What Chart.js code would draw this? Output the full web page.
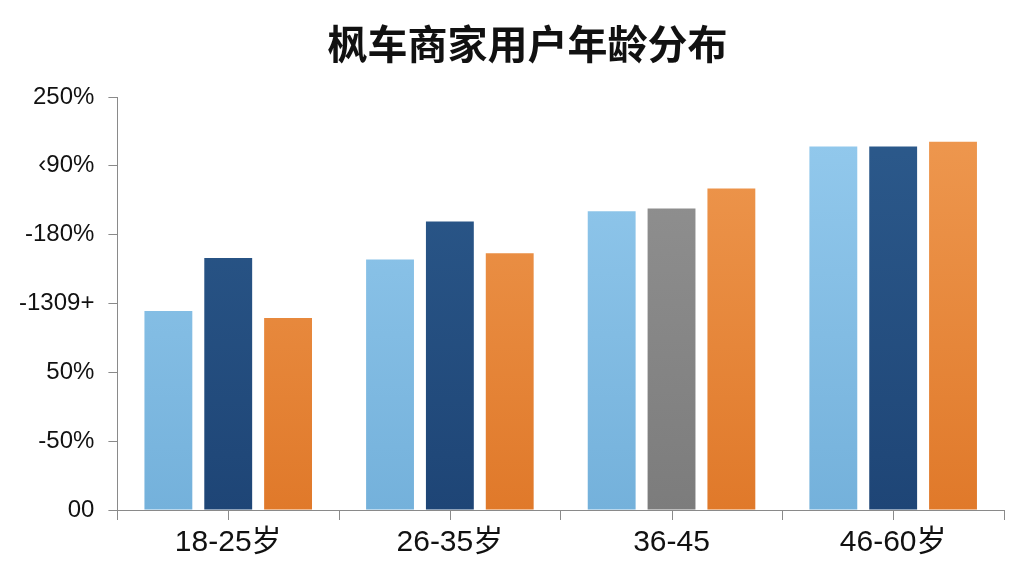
<!DOCTYPE html>
<html>
<head>
<meta charset="utf-8">
<script src="https://cdn.jsdelivr.net/npm/chart.js@4/dist/chart.umd.min.js"></script>
<style>
html,body{margin:0;padding:0;background:#fff}
#wrap{width:1024px;height:576px}
</style>
</head>
<body>
<div id="wrap"><canvas id="ageChart"></canvas></div>
<script>

/* =========================
   DATA
========================= */

let categories = ["18-25岁","26-35岁","36-45","46-60岁"]

// tick labels, bottom to top (as printed on the picture)
let yTickLabels = ["00","-50%","50%","-1309+","-180%","‹90%","250%"]

// bar heights in tick steps
let seriesA = [2.89,3.64,4.34,5.28]
let seriesB = [3.66,4.19,4.38,5.28]
let seriesC = [2.79,3.73,4.67,5.35]

/* =========================
   COLOURS
========================= */

function grad(ctx,chartArea,top,bottom){
let g = ctx.createLinearGradient(0,chartArea.top,0,chartArea.bottom)
g.addColorStop(0,top)
g.addColorStop(1,bottom)
return g
}

function fillFor(top,bottom,altIndex,altTop,altBottom){
return function(c){
let chart = c.chart
if(!chart.chartArea) return bottom
if(altIndex!==undefined && c.dataIndex===altIndex){
return grad(chart.ctx,chart.chartArea,altTop,altBottom)
}
return grad(chart.ctx,chart.chartArea,top,bottom)
}
}

/* center tick marks under each category */
let centerTicks = {
id:"centerTicks",
afterDraw(chart){
let x = chart.scales.x
let ctx = chart.ctx
ctx.save()
ctx.strokeStyle = "#8a8a8a"
ctx.lineWidth = 1
for(let i=0;i<categories.length;i++){
let px = Math.round(x.getPixelForValue(i))+0.5
ctx.beginPath()
ctx.moveTo(px,x.top)
ctx.lineTo(px,x.top+10)
ctx.stroke()
}
ctx.restore()
}
}

/* title sits a bit right of canvas centre in the picture */
let titleShift = {
id:"titleShift",
afterLayout(chart){
if(chart.titleBlock){
chart.titleBlock.left += 46
}
}
}

/* =========================
   CHART
========================= */

let ctx = document.getElementById("ageChart").getContext("2d")

let chart = new Chart(ctx,{
type:"bar",
data:{
labels:categories,
datasets:[
{
label:"A",
data:seriesA,
backgroundColor:fillFor("#95cbee","#74b1db")
},
{
label:"B",
data:seriesB,
backgroundColor:fillFor("#2d5b8d","#1e4576",2,"#949494","#7c7c7c")
},
{
label:"C",
data:seriesC,
backgroundColor:fillFor("#ef9a52","#e0792a")
}
]
},
options:{
responsive:true,
maintainAspectRatio:false,
animation:false,
devicePixelRatio:1,
categoryPercentage:0.81,
barPercentage:0.8,
layout:{
padding:{left:5,right:20,top:20,bottom:10}
},
plugins:{
legend:{display:false},
tooltip:{enabled:false},
title:{
display:true,
text:"枫车商家用户年龄分布",
color:"#111",
font:{family:"'Noto Sans CJK SC', 'Noto Sans', sans-serif",size:40,weight:"bold"},
padding:{top:0,bottom:29}
}
},
scales:{
x:{
grid:{
display:true,
offset:true,
drawOnChartArea:false,
drawTicks:true,
tickLength:10,
color:"#8a8a8a"
},
border:{display:true,color:"#8a8a8a",width:1},
ticks:{
color:"#111",
padding:5,
font:{family:"'Liberation Sans', 'Noto Sans CJK SC', sans-serif",size:30}
}
},
y:{
min:0,
max:6,
grid:{
display:true,
drawOnChartArea:false,
drawTicks:true,
tickLength:9,
color:"#8a8a8a"
},
border:{display:true,color:"#8a8a8a",width:1},
ticks:{
stepSize:1,
color:"#111",
padding:14,
font:{family:"'Liberation Sans', sans-serif",size:24},
callback:function(v){return yTickLabels[v]}
}
}
}
},
plugins:[centerTicks,titleShift]
})

</script>
</body>
</html>
